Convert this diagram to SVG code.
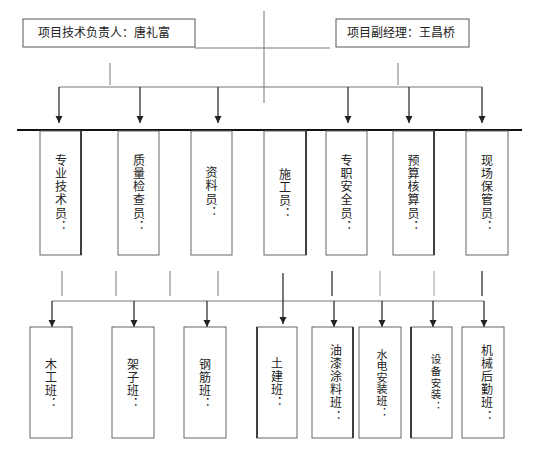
<svg xmlns="http://www.w3.org/2000/svg" width="541" height="455" viewBox="0 0 541 455">
<style>
text{font-family:"Noto Sans CJK SC","Noto Sans CJK TC",sans-serif;font-size:12px;fill:#222}
.v{writing-mode:vertical-rl;text-orientation:upright;letter-spacing:1.3px}
.box{fill:#fff;stroke:#666;stroke-width:1}
.dk{stroke:#222;stroke-width:1.6}
.thin{stroke:#777;stroke-width:1;fill:none}
.thinlt{stroke:#999;stroke-width:1;fill:none}
.thindk{stroke:#444;stroke-width:1.4;fill:none}
.arr{stroke:#222;stroke-width:1.2;fill:none;marker-end:url(#ah)}
.bar{stroke:#111;stroke-width:2;fill:none}
</style>
<defs>
<marker id="ah" markerUnits="userSpaceOnUse" markerWidth="8" markerHeight="8" refX="7" refY="3.5" orient="auto">
<path d="M0,0 L7,3.5 L0,7 z" fill="#222"/>
</marker>
</defs>

<g id="connectors">
<line class="thin" x1="264" y1="11" x2="264" y2="103"/>
<line class="thin" x1="195" y1="48" x2="330" y2="48"/>
<line class="thin" x1="110" y1="63" x2="110" y2="85"/>
<line class="thin" x1="398" y1="63" x2="398" y2="85"/>
<line class="thin" x1="59" y1="87" x2="482" y2="87"/>
<line class="arr" x1="59" y1="87" x2="59" y2="123"/>
<line class="arr" x1="140" y1="87" x2="140" y2="123"/>
<line class="arr" x1="218" y1="87" x2="218" y2="123"/>
<line class="arr" x1="348" y1="87" x2="348" y2="123"/>
<line class="arr" x1="409" y1="87" x2="409" y2="123"/>
<line class="arr" x1="482" y1="87" x2="482" y2="123"/>
<line class="bar" x1="17" y1="130" x2="522" y2="130"/>

<line class="thin" x1="62" y1="271" x2="62" y2="296"/>
<line class="thin" x1="116" y1="271" x2="116" y2="296"/>
<line class="thin" x1="170" y1="271" x2="170" y2="296"/>
<line class="thin" x1="218" y1="271" x2="218" y2="296"/>
<line class="thindk" x1="332" y1="271" x2="332" y2="296"/>
<line class="thinlt" x1="380" y1="271" x2="380" y2="296"/>
<line class="thinlt" x1="434" y1="271" x2="434" y2="296"/>
<line class="thindk" x1="482" y1="271" x2="482" y2="296"/>
<line class="thin" x1="52" y1="301" x2="484" y2="301"/>
<line class="arr" x1="52" y1="301" x2="52" y2="327"/>
<line class="arr" x1="134" y1="301" x2="134" y2="327"/>
<line class="arr" x1="207" y1="301" x2="207" y2="327"/>
<line class="arr" x1="283" y1="273" x2="283" y2="324"/>
<line class="arr" x1="334" y1="301" x2="334" y2="327"/>
<line class="arr" x1="382" y1="301" x2="382" y2="327"/>
<line class="arr" x1="433" y1="301" x2="433" y2="327"/>
<line class="arr" x1="484" y1="301" x2="484" y2="327"/>
</g>

<g id="tech-lead">
<rect class="box" x="23" y="19" width="172" height="28" style="stroke:#555"/>
<text x="38" y="37">项目技术负责人：唐礼富</text>
</g>
<g id="deputy-manager">
<rect class="box" x="336" y="19" width="133" height="28" style="stroke:#555"/>
<text x="347" y="37">项目副经理：王昌桥</text>
</g>

<g id="n1">
<rect class="box" x="40" y="131" width="41" height="124"/>
<line class="dk" x1="81" y1="131" x2="81" y2="255"/>
<text class="v" x="61" y="154">专业技术员：</text>
</g>
<g id="n2">
<rect class="box" x="118" y="131" width="41" height="124"/>
<text class="v" x="139" y="154">质量检查员：</text>
</g>
<g id="n3">
<rect class="box" x="191" y="131" width="41" height="124"/>
<text class="v" x="211.5" y="166.5">资料员：</text>
</g>
<g id="n4">
<rect class="box" x="264" y="131" width="42" height="124"/>
<line class="dk" x1="306" y1="131" x2="306" y2="255"/>
<text class="v" x="285" y="168">施工员：</text>
</g>
<g id="n5">
<rect class="box" x="326" y="131" width="41" height="124"/>
<text class="v" x="346.5" y="154">专职安全员：</text>
</g>
<g id="n6">
<rect class="box" x="393" y="131" width="41" height="124"/>
<line class="dk" x1="434" y1="131" x2="434" y2="255"/>
<text class="v" x="413.5" y="154">预算核算员：</text>
</g>
<g id="n7">
<rect class="box" x="466" y="131" width="42" height="124"/>
<text class="v" x="487" y="154">现场保管员：</text>
</g>

<g id="t1">
<rect class="box" x="30" y="327" width="42" height="111"/>
<text class="v" x="51" y="358" style="letter-spacing:1px">木工班：</text>
</g>
<g id="t2">
<rect class="box" x="112" y="327" width="42" height="111"/>
<text class="v" x="133" y="358" style="letter-spacing:1px">架子班：</text>
</g>
<g id="t3">
<rect class="box" x="184" y="327" width="42" height="111"/>
<text class="v" x="205" y="358" style="letter-spacing:1px">钢筋班：</text>
</g>
<g id="t4">
<rect class="box" x="257" y="327" width="40" height="111"/>
<line class="dk" x1="257" y1="327" x2="257" y2="438"/>
<text class="v" x="277" y="357" style="letter-spacing:1px">土建班：</text>
</g>
<g id="t5">
<rect class="box" x="312" y="327" width="41" height="111"/>
<line class="dk" x1="353" y1="327" x2="353" y2="438"/>
<text class="v" x="336" y="344" style="letter-spacing:1.2px">油漆涂料班：</text>
</g>
<g id="t6">
<rect class="box" x="359" y="327" width="42" height="111"/>
<text class="v" x="382" y="349" style="font-size:11px;letter-spacing:0.6px">水电安装班：</text>
</g>
<g id="t7">
<rect class="box" x="411" y="327" width="41" height="111"/>
<line class="dk" x1="411" y1="327" x2="411" y2="438"/>
<text class="v" x="436" y="354" style="font-size:10.5px;letter-spacing:1.2px">设备安装：</text>
</g>
<g id="t8">
<rect class="box" x="462" y="327" width="42" height="111"/>
<text class="v" x="487" y="344" style="letter-spacing:1.2px">机械后勤班：</text>
</g>
</svg>
